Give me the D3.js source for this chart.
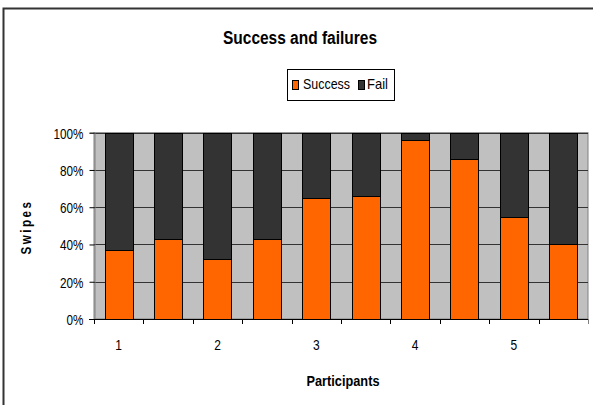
<!DOCTYPE html>
<html>
<head>
<meta charset="utf-8">
<script src="https://cdn.jsdelivr.net/npm/d3@7"></script>
<style>
  body { margin: 0; background: #fff; }
  svg { display: block; font-family: "Liberation Sans", Arial, sans-serif; }
</style>
</head>
<body>
<svg id="chart" width="593" height="405"></svg>
<script>
const bars = ["b1", "b2", "b3", "b4", "b5", "b6", "b7", "b8", "b9", "b10"];
const barLabels = ["1", "", "2", "", "3", "", "4", "", "5", ""];
const success = [37, 43, 32, 43, 65, 66, 96, 86, 55, 40];
const fail = [63, 57, 68, 57, 35, 34, 4, 14, 45, 60];
const yTicks = [0, 20, 40, 60, 80, 100];
const seriesNames = ["Success", "Fail"];
const colors = ["#ff6600", "#333333"];

const width = 593, height = 405;
const plot = { left: 94, right: 588, top: 132.7, bottom: 319 };

const svg = d3.select("#chart");

// squeeze text horizontally like the source image
const squeeze = (sel, k) => sel.each(function () {
  const w = this.getComputedTextLength();
  d3.select(this).attr("textLength", w * k).attr("lengthAdjust", "spacingAndGlyphs");
});

// outer frame
svg.append("rect")
  .attr("x", 3.5).attr("y", 8.5)
  .attr("width", 620).attr("height", 420)
  .attr("fill", "none").attr("stroke", "#333").attr("stroke-width", 2);

const x = d3.scaleBand().domain(bars).range([plot.left, plot.right]).paddingInner(0.43).paddingOuter(0.215);
const y = d3.scaleLinear().domain([0, 100]).range([plot.bottom, plot.top]);

svg.append("rect")
  .attr("x", plot.left).attr("y", plot.top)
  .attr("width", plot.right - plot.left).attr("height", plot.bottom - plot.top)
  .attr("fill", "#c0c0c0").attr("stroke", "#808080");

svg.append("g")
  .selectAll("line")
  .data(yTicks.slice(1))
  .join("line")
  .attr("x1", plot.left).attr("x2", plot.right)
  .attr("y1", d => Math.round(y(d)) + 0.5).attr("y2", d => Math.round(y(d)) + 0.5)
  .attr("stroke", "#333");

const table = bars.map((b, i) => ({ bar: b, Success: success[i], Fail: fail[i] }));
const stacked = d3.stack().keys(seriesNames)(table);

svg.append("g")
  .selectAll("g")
  .data(stacked)
  .join("g")
  .attr("fill", (d, i) => colors[i])
  .selectAll("rect")
  .data(d => d)
  .join("rect")
  .attr("x", d => Math.round(x(d.data.bar)) + 0.5)
  .attr("y", d => Math.round(y(d[1])) + 0.5)
  .attr("width", Math.round(x.bandwidth()))
  .attr("height", d => Math.round(y(d[0])) - Math.round(y(d[1])))
  .attr("stroke", "#000");

// y axis
const yAxis = svg.append("g")
  .attr("transform", `translate(${plot.left + 0.5},0)`)
  .call(d3.axisLeft(y).tickValues(yTicks).tickSize(5).tickPadding(6).tickFormat(d => d + "%"));
yAxis.select(".domain").attr("stroke", "#808080");
yAxis.selectAll(".tick line").attr("stroke", "#000");
yAxis.selectAll(".tick text")
  .attr("font-size", 15).attr("fill", "#000").attr("dy", "0.36em")
  .style("font-family", "Liberation Sans, Arial, sans-serif")
  .call(squeeze, 0.78);

// x axis: labels under bars, ticks at category edges
const xAxis = svg.append("g")
  .attr("transform", `translate(0,${plot.bottom + 0.5})`)
  .call(d3.axisBottom(x).tickSize(0).tickPadding(20).tickFormat((d, i) => barLabels[i]));
xAxis.select(".domain").remove();
xAxis.selectAll(".tick text")
  .attr("font-size", 15).attr("fill", "#000")
  .style("font-family", "Liberation Sans, Arial, sans-serif")
  .call(squeeze, 0.8);

const edges = bars.map(b => x(b) - x.step() * x.paddingInner() / 2).concat([plot.right]);
svg.append("g")
  .selectAll("line")
  .data(edges)
  .join("line")
  .attr("x1", d => Math.round(d) + 0.5).attr("x2", d => Math.round(d) + 0.5)
  .attr("y1", plot.bottom).attr("y2", plot.bottom + 5)
  .attr("stroke", (d, i) => i === edges.length - 1 ? "#808080" : "#000");
svg.append("line")
  .attr("x1", plot.left - 5).attr("x2", plot.right)
  .attr("y1", plot.bottom + 0.5).attr("y2", plot.bottom + 0.5)
  .attr("stroke", "#000");

// titles
svg.append("text")
  .attr("x", 300).attr("y", 44)
  .attr("text-anchor", "middle")
  .attr("font-size", 18).attr("font-weight", "bold")
  .text("Success and failures")
  .attr("textLength", 154).attr("lengthAdjust", "spacingAndGlyphs");

svg.append("text")
  .attr("x", 343).attr("y", 386)
  .attr("text-anchor", "middle")
  .attr("font-size", 15.5).attr("font-weight", "bold")
  .text("Participants")
  .attr("textLength", 73).attr("lengthAdjust", "spacingAndGlyphs");

svg.append("text")
  .attr("transform", "translate(31,227) rotate(-90)")
  .attr("text-anchor", "middle")
  .attr("font-size", 14).attr("font-weight", "bold")
  .attr("letter-spacing", 3)
  .text("Swipes")
  .attr("textLength", 55).attr("lengthAdjust", "spacingAndGlyphs");

// legend
const legend = svg.append("g");
legend.append("rect")
  .attr("x", 287.5).attr("y", 69.5).attr("width", 107).attr("height", 31)
  .attr("fill", "#fff").attr("stroke", "#000");
const legendPos = [{ sx: 292, tx: 303, w: 47 }, { sx: 358, tx: 367, w: 21 }];
seriesNames.forEach((name, i) => {
  legend.append("rect")
    .attr("x", legendPos[i].sx + 0.5).attr("y", 80.5).attr("width", 6).attr("height", 9)
    .attr("fill", colors[i]).attr("stroke", "#000");
  legend.append("text")
    .attr("x", legendPos[i].tx).attr("y", 89)
    .attr("font-size", 15)
    .text(name)
    .attr("textLength", legendPos[i].w).attr("lengthAdjust", "spacingAndGlyphs");
});
</script>
</body>
</html>
